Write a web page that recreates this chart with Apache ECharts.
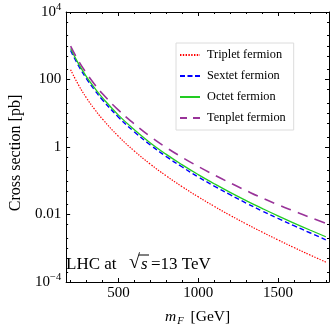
<!DOCTYPE html>
<html><head><meta charset="utf-8">
<script src="https://cdn.jsdelivr.net/npm/echarts@6/dist/echarts.min.js"></script>
<style>html,body{margin:0;padding:0;background:#fff}#c{width:332px;height:332px}</style>
</head><body><div id="c"></div><script>
const masses = [200,250,300,350,400,500,600,700,800,900,1000,1100,1200,1300,1400,1500,1600,1700,1800];
const triplet = [195,68.2,28.2,13.2,6.70,2.07,0.757,0.310,0.139,0.0664,0.0334,0.0175,0.00946,0.0053,0.00303,0.00177,0.00105,0.000635,0.000389];
const sextet = [724,253,105,49.0,24.8,7.66,2.80,1.15,0.521,0.255,0.130,0.0697,0.0385,0.0219,0.01276,0.00764,0.00467,0.00288,0.00178];
const octet = [832,291,120.5,56.3,28.6,8.81,3.23,1.32,0.605,0.296,0.152,0.0818,0.0453,0.0259,0.0152,0.0091,0.00558,0.00347,0.00219];
const tenplet = [977,354,152,72.5,37.7,12.4,4.78,2.03,0.959,0.492,0.265,0.149,0.0863,0.0512,0.031,0.01954,0.01265,0.00826,0.0055];
const seriesNames = ['Triplet fermion','Sextet fermion','Octet fermion','Tenplet fermion'];
const xMajor = [500,1000,1500];
const xMinor = [200,300,400,600,700,800,900,1100,1200,1300,1400,1600,1700,1800];
const yMajor = [1e-4,1e-2,1,100,1e4];
const yTickLabels = ['10{sup|−4}','0.01','1','100','10{sup|4}'];
const yMinor = [];
for (let e=-4;e<4;e++){ [2,5,10].forEach(k=>{ const v=k*Math.pow(10,e); if(k!==10||e%2===0) yMinor.push(v);}); }

const FONT = '"Liberation Serif","DejaVu Serif",serif';
const XMIN=172, XMAX=1820;
const zip = (a,b)=>a.map((m,i)=>[m,b[i]]);
const chart = echarts.init(document.getElementById('c'));
const xBase = (pos, major) => ({
  type:'value', position:pos, min:XMIN, max:XMAX,
  axisLine:{show:major, onZero:false, lineStyle:{color:'#000',width:1}},
  axisTick:{show:true, inside:true, length: major?4:2, customValues: major?xMajor:xMinor, lineStyle:{color:'#000'}},
  axisLabel:{show:false}, splitLine:{show:false}
});
const yBase = (pos, major) => ({
  type:'log', logBase:10, position:pos, min:1e-4, max:1e4,
  axisLine:{show:major, onZero:false, lineStyle:{color:'#000',width:1}},
  axisTick:{show:true, inside:true, length: major?4:2, customValues: major?yMajor:yMinor, lineStyle:{color:'#000'}},
  axisLabel:{show:false}, splitLine:{show:false}, minorTick:{show:false}
});
const x0 = xBase('bottom', true);
x0.axisLabel = {show:true, customValues:xMajor, fontFamily:FONT, fontSize:15, color:'#000', margin:4, formatter:(v)=>String(Math.round(v))};
x0.name = '{i|m}{s|F} [GeV]';
x0.nameLocation = 'middle';
x0.nameGap = 24;
x0.nameTextStyle = {fontFamily:FONT, fontSize:15.5, color:'#000',
  rich:{i:{fontFamily:FONT, fontSize:15.5, fontStyle:'italic', color:'#000'},
        s:{fontFamily:FONT, fontSize:10.5, fontStyle:'italic', color:'#000', padding:[10,3,0,1]}}};
const y0 = yBase('left', true);
y0.axisLabel = {show:true, customValues:yMajor, fontFamily:FONT, fontSize:15, color:'#000', margin:5,
  formatter:(v)=>{ const e=Math.round(Math.log10(v)); const i=yMajor.findIndex(t=>Math.round(Math.log10(t))===e); return i>=0?yTickLabels[i]:''; },
  rich:{sup:{fontFamily:FONT, fontSize:10.5, color:'#000', padding:[0,0,9,0]}}};
y0.name = 'Cross section [pb]';
y0.nameLocation = 'middle';
y0.nameGap = 39;
y0.nameTextStyle = {fontFamily:FONT, fontSize:16, color:'#000', padding:[0,12,0,0]};

const option = {
  animation:false,
  backgroundColor:'#fff',
  grid:{left:56, right:3, top:12, bottom:44, containLabel:false},
  xAxis:[x0, xBase('bottom',false), xBase('top',true), xBase('top',false)],
  yAxis:[y0, yBase('left',false), yBase('right',true), yBase('right',false)],
  legend:{orient:'vertical', left:176, top:43, itemWidth:20, itemHeight:12, itemGap:9,
    padding:[6,8,6,3], borderColor:'#dcdcdc', borderWidth:1, backgroundColor:'#fff',
    itemStyle:{opacity:0},
    textStyle:{fontFamily:FONT, fontSize:12.3, color:'#000', padding:[0,0,0,2]},
    data:[
      {name:seriesNames[0]},
      {name:seriesNames[1], lineStyle:{type:[5,2.5]}},
      {name:seriesNames[2]},
      {name:seriesNames[3], lineStyle:{type:[7,6]}}
    ]},
  series:[
    {name:seriesNames[0], type:'line', data:zip(masses,triplet), symbol:'none', showSymbol:false, smooth:true,
      lineStyle:{color:'#ff0000', width:1.2, type:[1.4,1.4]}, itemStyle:{color:'#ff0000'}},
    {name:seriesNames[1], type:'line', data:zip(masses,sextet), symbol:'none', showSymbol:false, smooth:true,
      lineStyle:{color:'#0000ff', width:1.4, type:[5,3]}, itemStyle:{color:'#0000ff'}},
    {name:seriesNames[2], type:'line', data:zip(masses,octet), symbol:'none', showSymbol:false, smooth:true,
      lineStyle:{color:'#22cc22', width:1.3}, itemStyle:{color:'#22cc22'}},
    {name:seriesNames[3], type:'line', data:zip(masses,tenplet), symbol:'none', showSymbol:false, smooth:true,
      lineStyle:{color:'#993399', width:1.6, type:[11,7]}, itemStyle:{color:'#993399'}}
  ],
  graphic:[
    {type:'text', left:66, top:256, silent:true,
      style:{text:'LHC at', fill:'#000', fontFamily:FONT, fontSize:17}},
    {type:'text', left:129, top:253, silent:true,
      style:{text:'√', fill:'#000', fontFamily:FONT, fontSize:20}},
    {type:'text', left:141, top:256, silent:true,
      style:{text:'s', fill:'#000', fontFamily:FONT, fontSize:17, fontStyle:'italic'}},
    {type:'text', left:151, top:256, silent:true,
      style:{text:'=13 TeV', fill:'#000', fontFamily:FONT, fontSize:17}},
    {type:'line', silent:true, shape:{x1:139, y1:255, x2:149, y2:255}, style:{stroke:'#000', lineWidth:1}}
  ]
};
chart.setOption(option);
</script></body></html>
